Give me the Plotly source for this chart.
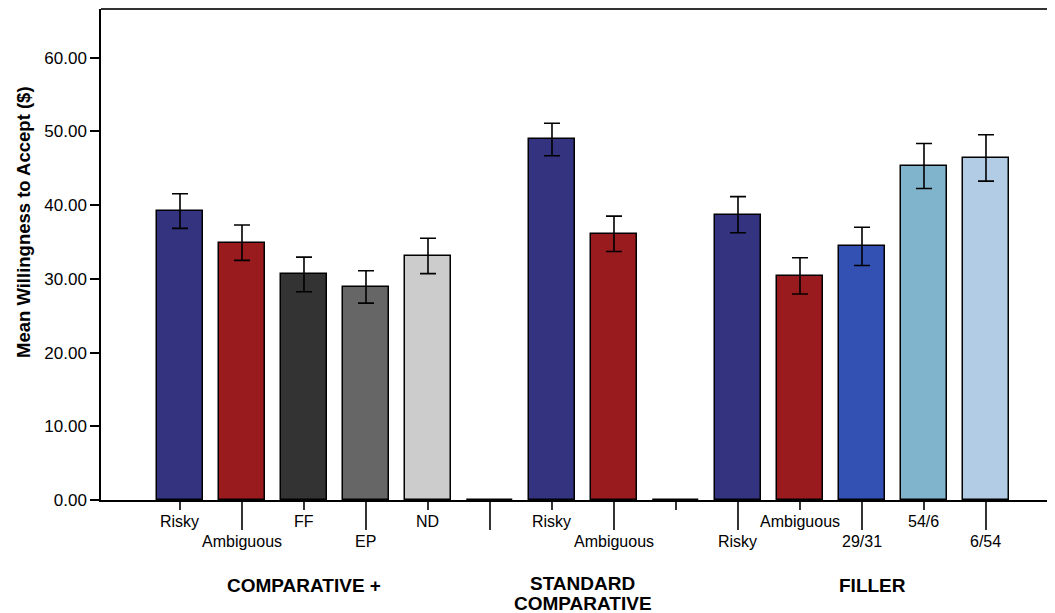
import plotly.graph_objects as go

# ---- data ----
labels = ["Risky", "Ambiguous", "FF", "EP", "ND", "",
          "Risky", "Ambiguous", "",
          "Risky", "Ambiguous", "29/31", "54/6", "6/54"]
means = [39.2, 34.9, 30.6, 28.9, 33.1, 0.0,
         48.9, 36.1, 0.0,
         38.7, 30.4, 34.4, 45.3, 46.4]
errors = [2.35, 2.4, 2.35, 2.2, 2.4, 0.0,
          2.2, 2.4, 0.0,
          2.45, 2.45, 2.6, 3.05, 3.15]
colors = ["#333380", "#991B1E", "#333333", "#666666", "#CCCCCC", "#FFFFFF",
          "#333380", "#991B1E", "#FFFFFF",
          "#333380", "#991B1E", "#3350B3", "#80B3CC", "#B3CCE6"]
groups = ["COMPARATIVE +", "STANDARD<br>COMPARATIVE", "FILLER"]
group_slots = [[0, 1, 2, 3, 4], [6, 7], [9, 10, 11, 12, 13]]
group_xshift = [0, 0, 11]
yticks = [0, 10, 20, 30, 40, 50, 60]

x = list(range(len(labels)))
FONT = "Liberation Sans, Arial, sans-serif"

fig = go.Figure()
fig.add_trace(go.Bar(
    x=x, y=means, width=0.74,
    marker=dict(color=colors, line=dict(color="black", width=1.5)),
    error_y=dict(type="data", array=errors, visible=True,
                 color="black", thickness=1.6, width=8),
    showlegend=False, hoverinfo="skip",
))

T, B = 1, 113
W, HT = 1047, 605
H = HT - T - B  # plot height px
shapes = []
annotations = []
for i, lab in enumerate(labels):
    upper = (i % 2 == 0)
    tl = 10 if upper else 30
    shapes.append(dict(type="line", xref="x", yref="paper", x0=i, x1=i,
                       y0=0, y1=-tl / H, line=dict(color="black", width=1.6)))
    if lab:
        annotations.append(dict(x=i, y=0, xref="x", yref="paper", text=lab,
                                showarrow=False, xanchor="center", yanchor="middle",
                                yshift=-21 if upper else -41,
                                font=dict(family=FONT, size=16, color="black")))
for g, slots, xs in zip(groups, group_slots, group_xshift):
    cx = sum(slots) / len(slots)
    lines = g.split("<br>")
    for k, ln in enumerate(lines):
        ys = -85 if len(lines) == 1 else -83 - 20 * k
        annotations.append(dict(x=cx, y=0, xref="x", yref="paper", text="<b>" + ln + "</b>",
                                showarrow=False, xanchor="center", yanchor="middle",
                                yshift=ys, xshift=xs,
                                font=dict(family=FONT, size=19, color="black")))

annotations.append(dict(x=0, y=(492 - 214) / H, xref="paper", yref="paper",
                        text="<b>Mean Willingness to Accept ($)</b>", textangle=-90,
                        showarrow=False, xanchor="center", yanchor="middle", xshift=-78,
                        font=dict(family=FONT, size=18.5, color="black")))
# top frame line
shapes.append(dict(type="line", xref="paper", yref="paper", x0=0, x1=1, y0=1, y1=1,
                   line=dict(color="#333333", width=2)))

fig.update_layout(
    width=W, height=HT,
    margin=dict(l=93, r=0, t=T, b=B),
    paper_bgcolor="white", plot_bgcolor="white",
    shapes=shapes, annotations=annotations,
    bargap=0,
    xaxis=dict(range=[-1.274, 14.113], showticklabels=False, ticks="",
               showgrid=False, zeroline=False, showline=True,
               linecolor="black", linewidth=1.5),
    yaxis=dict(range=[0, 66.6], tickvals=yticks, tickformat=".2f",
               ticks="outside", ticklen=9, tickwidth=1.5, tickcolor="black",
               showgrid=False, zeroline=False, showline=True,
               linecolor="black", linewidth=1.5,
               tickfont=dict(family=FONT, size=17, color="black")),
)

fig.write_html("out.html")
